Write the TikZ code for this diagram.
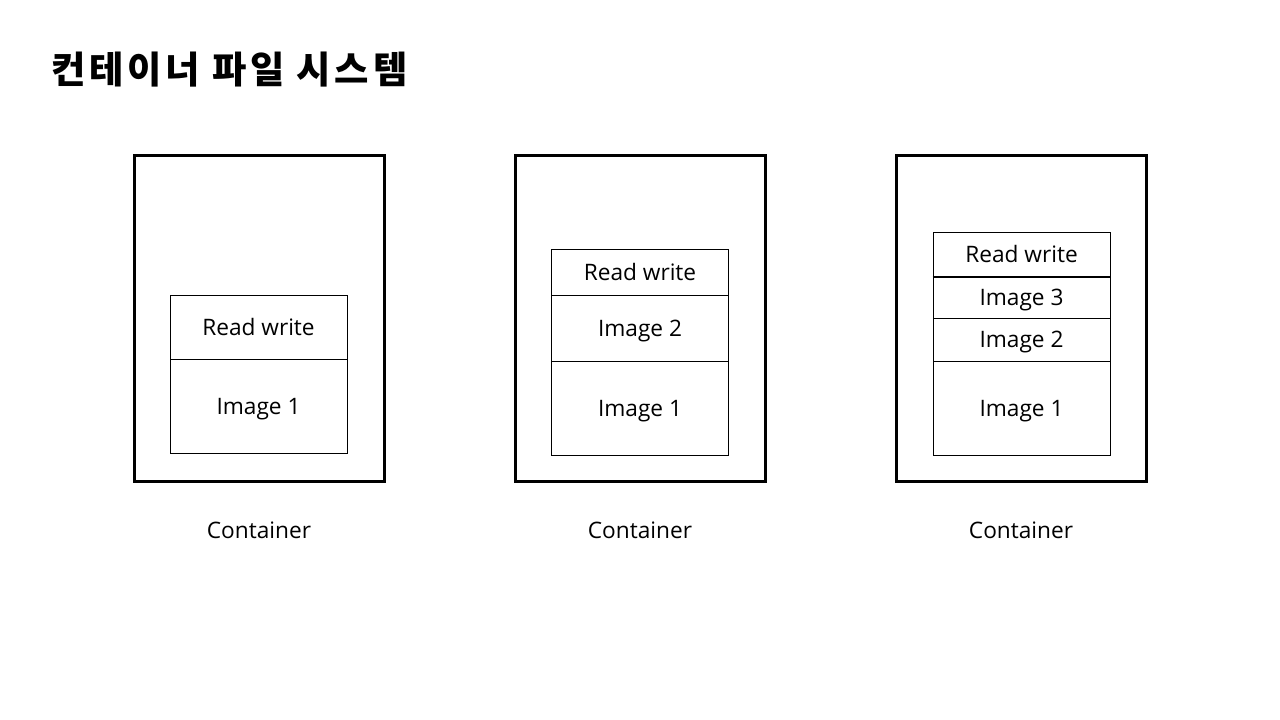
\documentclass[tikz,border=0pt]{standalone}
\usepackage{fontspec}
\setmainfont{Open Sans}
\newfontfamily\krfont{Noto Sans CJK KR}[LetterSpace=10]
\def\u{0.75pt}
\tikzset{
  outerbox/.style={draw=black, line width=3*\u, minimum width=250*\u, minimum height=325*\u, inner sep=0pt},
  layer/.style={draw=black, line width=1*\u, minimum width=177*\u, inner sep=0pt, text height=12.2pt, text depth=0pt, font=\fontsize{17pt}{19pt}\selectfont},
  caption/.style={font=\fontsize{17pt}{19pt}\selectfont, text height=12.2pt, text depth=0pt, inner sep=0pt},
  titletext/.style={font=\krfont\bfseries\fontsize{28pt}{32pt}\selectfont, inner sep=0pt, anchor=west}
}
\begin{document}
\begin{tikzpicture}[x=0.75pt, y=-0.75pt]
\useasboundingbox[fill=white] (0,0) rectangle (1280,720);
\node[titletext] (title) at (51,70) {컨테이너 파일 시스템};

% container 1
\node[outerbox] (c1) at (259,318.5) {};
\node[layer, minimum height=64*\u] (c1rw) at (258.5,327) {Read write};
\node[layer, minimum height=94*\u] (c1i1) at (258.5,406) {Image 1};
\node[caption] (l1) at (259,530) {Container};

% container 2
\node[outerbox] (c2) at (640,318.5) {};
\node[layer, minimum height=46*\u] (c2rw) at (640,272) {Read write};
\node[layer, minimum height=66*\u] (c2i2) at (640,328) {Image 2};
\node[layer, minimum height=94*\u] (c2i1) at (640,408) {Image 1};
\node[caption] (l2) at (640,530) {Container};

% container 3
\node[outerbox] (c3) at (1021,318.5) {};
\node[layer, minimum height=43*\u] (c3rw) at (1021.5,254.5) {Read write};
\node[layer, minimum height=42*\u] (c3i3) at (1021.5,297) {Image 3};
\node[layer, minimum height=43*\u] (c3i2) at (1021.5,339.5) {Image 2};
\node[layer, minimum height=94*\u] (c3i1) at (1021.5,408) {Image 1};
\draw[line width=2*\u] (c3rw.south west) -- (c3rw.south east);
\node[caption] (l3) at (1021,530) {Container};
\end{tikzpicture}
\end{document}
